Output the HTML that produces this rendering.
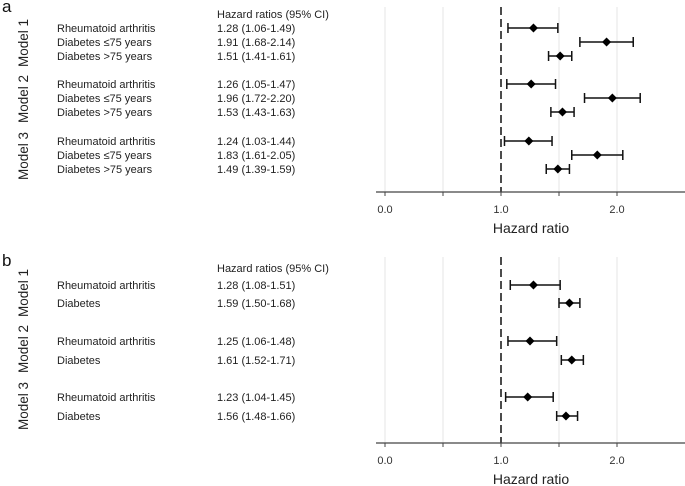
<!DOCTYPE html>
<html><head><meta charset="utf-8"><style>
html,body{margin:0;padding:0;background:#fff;}
svg{display:block;font-family:"Liberation Sans",Arial,sans-serif;}
</style></head><body>
<svg id="chart" width="685" height="486" viewBox="0 0 685 486"></svg>
<script>
// Panel a data
const aLabels = ["Rheumatoid arthritis","Diabetes ≤75 years","Diabetes >75 years","Rheumatoid arthritis","Diabetes ≤75 years","Diabetes >75 years","Rheumatoid arthritis","Diabetes ≤75 years","Diabetes >75 years"];
const aHR = [1.28,1.91,1.51,1.26,1.96,1.53,1.24,1.83,1.49];
const aLow = [1.06,1.68,1.41,1.05,1.72,1.43,1.03,1.61,1.39];
const aHigh = [1.49,2.14,1.61,1.47,2.20,1.63,1.44,2.05,1.59];
// Panel b data
const bLabels = ["Rheumatoid arthritis","Diabetes","Rheumatoid arthritis","Diabetes","Rheumatoid arthritis","Diabetes"];
const bHR = [1.28,1.59,1.25,1.61,1.23,1.56];
const bLow = [1.08,1.50,1.06,1.52,1.04,1.48];
const bHigh = [1.51,1.68,1.48,1.71,1.45,1.66];
const tickValues = [0,0.5,1,1.5,2];
const tickLabels = ["0.0","","1.0","","2.0"];
const models = ["Model 1","Model 2","Model 3"];

const NS="http://www.w3.org/2000/svg";
const svg=document.getElementById('chart');
function mk(tag,attrs,parent,text){const e=document.createElementNS(NS,tag);for(const k in attrs)e.setAttribute(k,attrs[k]);if(text!==undefined)e.textContent=text;(parent||svg).appendChild(e);return e;}
function xScale(v){return 385+v*116;}
function fmt(v){return v.toFixed(2);}

function panel(cfg){
  const g=mk('g',{});
  
  
  const L=mk('text',{x:2,y:cfg.letterY,'font-size':17,fill:'#111'},g,cfg.letter);
  
  
  const h=mk('text',{x:217,y:cfg.headerY,'font-size':11,fill:'#222'},g,'Hazard ratios (95% CI)');
  
  
  tickValues.forEach((t)=>{
    if(t===1)return;
    const gl=mk('line',{x1:xScale(t),x2:xScale(t),y1:cfg.top,y2:cfg.axisY,stroke:'#e4e4e4','stroke-width':1},g);
    
    
  });
  const ref=mk('line',{x1:xScale(1),x2:xScale(1),y1:cfg.top,y2:cfg.axisY,stroke:'#111','stroke-width':1.5,'stroke-dasharray':'8,4'},g);
  
  
  const ax=mk('line',{x1:376,x2:685,y1:cfg.axisY,y2:cfg.axisY,stroke:'#444','stroke-width':1.2},g);
  
  
  tickValues.forEach((t,i)=>{
    const tk=mk('line',{x1:xScale(t),x2:xScale(t),y1:cfg.axisY,y2:cfg.axisY+4,stroke:'#444'},g);
    
    
    if(tickLabels[i]){
      const tl=mk('text',{x:xScale(t),y:cfg.axisY+21,'font-size':11,'text-anchor':'middle',fill:'#333'},g,tickLabels[i]);
      
      
    }
  });
  const xt=mk('text',{x:531,y:cfg.axisY+41,'font-size':14,'text-anchor':'middle',fill:'#222'},g,'Hazard ratio');
  
  
  models.forEach((m,i)=>{
    const t=mk('text',{transform:`translate(28,${cfg.modelY[i]}) rotate(-90)`,'font-size':13.5,'text-anchor':'middle',fill:'#222'},g,m);
    
    
  });
  cfg.labels.forEach((lab,i)=>{
    const y=cfg.rowY[i];
    const n=mk('text',{x:57,y:y+4,'font-size':11,fill:'#222'},g,lab);
    
    
    const v=mk('text',{x:217,y:y+4,'font-size':11,fill:'#222'},g,`${fmt(cfg.hr[i])} (${fmt(cfg.low[i])}-${fmt(cfg.high[i])})`);
    
    
    const x1=xScale(cfg.low[i]),x2=xScale(cfg.high[i]),xc=xScale(cfg.hr[i]);
    const ci=mk('path',{d:`M${x1},${y}H${x2}M${x1},${y-5}V${y+5}M${x2},${y-5}V${y+5}`,stroke:'#111','stroke-width':1.5,fill:'none'},g);
    
    
    const d=mk('path',{d:`M${xc},${y-4.5}L${xc+4.5},${y}L${xc},${y+4.5}L${xc-4.5},${y}Z`,fill:'#000'},g);
    
    
  });
}
panel({letter:'a',letterY:12,headerY:18,top:7,axisY:192,labels:aLabels,hr:aHR,low:aLow,high:aHigh,
  rowY:[28,42,56,84,98,112,141,155,169],modelY:[43,99,156]});
panel({letter:'b',letterY:266,headerY:272,top:257,axisY:443,labels:bLabels,hr:bHR,low:bLow,high:bHigh,
  rowY:[285,303,341,360,397,416],modelY:[293,349,406]});
</script>
</body></html>
